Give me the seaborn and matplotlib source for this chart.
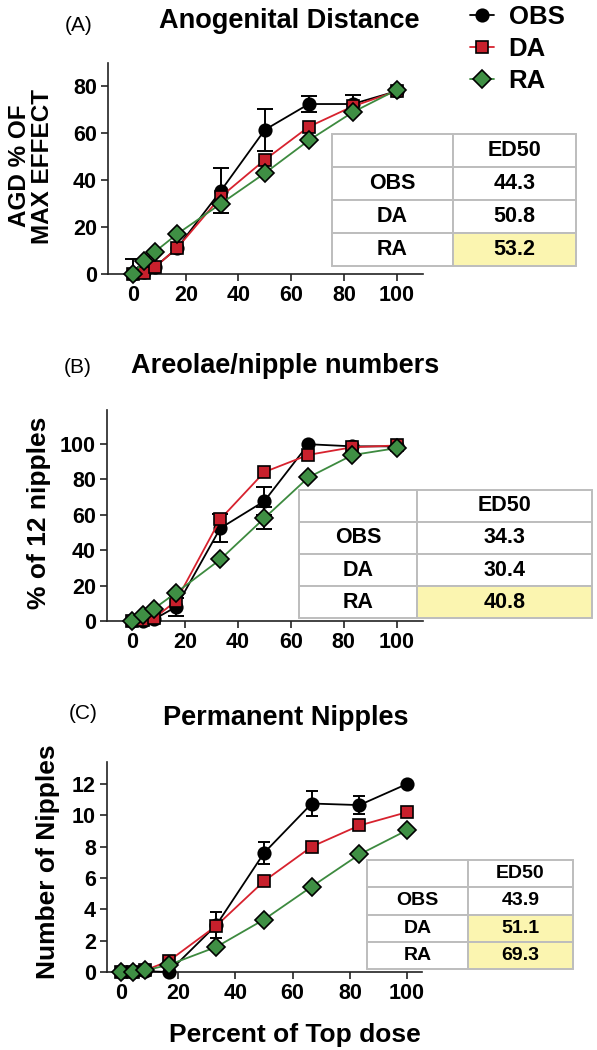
import matplotlib
matplotlib.use("Agg")
import matplotlib.pyplot as plt
from matplotlib.lines import Line2D
import pandas as pd
import seaborn as sns

# percent of top dose (x positions shared by all panels)
dose = [0, 4.17, 8.33, 16.67, 33.33, 50, 66.67, 83.33, 100]
groups = ["OBS", "DA", "RA"]

# (A) Anogenital distance, % of max effect
agd_obs = [0, 1, 3, 11, 35.5, 61.5, 72.5, 72.5, 78]
agd_obs_err = [6.5, 0, 0, 0, 9.5, 9, 3.5, 4, 0]
agd_da = [0, 0.5, 3, 11, 33, 48.7, 62.8, 71.5, 78]
agd_da_err = [0, 0, 0, 0, 0, 0, 0, 0, 0]
agd_ra = [0, 5.5, 9.5, 17, 30, 43, 57, 69, 78.5]
agd_ra_err = [0, 0, 0, 0, 0, 0, 0, 0, 0]
agd_ed50 = ["44.3", "50.8", "53.2"]
agd_highlight = ["RA"]

# (B) Areolae / nipple numbers, % of 12 nipples
areola_obs = [0, 0, 1, 8, 52.3, 67.6, 99.7, 98.5, 98.5]
areola_obs_err = [0, 0, 0, 5, 8, 8, 0, 0, 0]
areola_da = [0, 0.5, 1.5, 11.4, 57.4, 84, 93.7, 98, 99]
areola_da_err = [0, 0, 0, 0, 0, 0, 0, 0, 0]
areola_ra = [0, 3.4, 7, 16, 34.7, 58, 81, 93.6, 97.5]
areola_ra_err = [0, 0, 0, 0, 0, 6.3, 0, 0, 0]
areola_ed50 = ["34.3", "30.4", "40.8"]
areola_highlight = ["RA"]

# (C) Permanent nipples, number of nipples
perm_obs = [0, 0, 0.05, 0, 3, 7.6, 10.75, 10.65, 12.0]
perm_obs_err = [0, 0, 0, 0, 0.8, 0.7, 0.8, 0.55, 0]
perm_da = [0, 0, 0.1, 0.7, 2.95, 5.8, 8.0, 9.35, 10.2]
perm_da_err = [0, 0, 0, 0, 0, 0, 0, 0, 0]
perm_ra = [0, 0, 0.1, 0.45, 1.6, 3.35, 5.45, 7.5, 9.05]
perm_ra_err = [0, 0, 0, 0, 0, 0, 0, 0, 0]
perm_ed50 = ["43.9", "51.1", "69.3"]
perm_highlight = ["DA", "RA"]

W, H = 597, 1050

# style per group: line colour, marker, marker face, marker size
styles = {
    "OBS": dict(color="black", marker="o", mfc="black", ms=9),
    "DA": dict(color="#d7222e", marker="s", mfc="#c8202c", ms=8.5),
    "RA": dict(color="#3d8a3f", marker="D", mfc="#3f8f44", ms=9.5),
}
highlight_color = "#fbf5b0"
border_color = "#bdbdbd"

sns.set_theme(style="ticks")
plt.rcParams["font.family"] = ["Liberation Sans", "DejaVu Sans"]
plt.rcParams["font.weight"] = "bold"
for key in ("text.color", "axes.labelcolor", "xtick.color", "ytick.color", "xtick.labelcolor", "ytick.labelcolor"):
    plt.rcParams[key] = "black"


def fx(px):
    return px / W


def fy(py):
    return 1 - py / H


def draw_panel(ax, series, errors, capsize=5.5):
    for z, g in enumerate(groups):
        st = styles[g]
        df = pd.DataFrame({"dose": dose, "value": series[g]})
        sns.lineplot(data=df, x="dose", y="value", ax=ax, color=st["color"],
                     linewidth=1.3, marker=st["marker"], markersize=st["ms"],
                     markerfacecolor=st["mfc"], markeredgecolor="black",
                     markeredgewidth=1.2, clip_on=False, zorder=4 + z)
        err = errors[g]
        keep = [i for i, e in enumerate(err) if e > 0]
        if keep:
            ax.errorbar([dose[i] for i in keep], [series[g][i] for i in keep],
                        yerr=[err[i] for i in keep], fmt="none", ecolor="black",
                        elinewidth=1.4, capsize=capsize, capthick=1.4, zorder=3)
    sns.despine(ax=ax)
    for sp in ("left", "bottom"):
        ax.spines[sp].set_linewidth(1.2)
        ax.spines[sp].set_color("#222222")
    ax.tick_params(direction="out", length=5, width=1.2, color="#222222",
                   labelcolor="black", labelsize=15.5, pad=3)
    for lab in ax.get_xticklabels() + ax.get_yticklabels():
        lab.set_fontweight("bold")
    ax.set_xlabel("")
    ax.set_ylabel("")
    ax.set_xticks([0, 20, 40, 60, 80, 100])
    ax.set_facecolor("white")


def add_table(rect, values, highlight, fontsize, first_col):
    tax = fig.add_axes(rect)
    tax.axis("off")
    cell_text = [["", "ED50"]] + [[g, v] for g, v in zip(groups, values)]
    colours = [["white", "white"]] + [
        ["white", highlight_color if g in highlight else "white"] for g in groups]
    tbl = tax.table(cellText=cell_text, cellColours=colours, cellLoc="center",
                    bbox=[0, 0, 1, 1], colWidths=[first_col, 1 - first_col])
    tbl.auto_set_font_size(False)
    for cell in tbl.get_celld().values():
        cell.set_edgecolor(border_color)
        cell.set_linewidth(1.4)
        cell.get_text().set_fontsize(fontsize)
        cell.get_text().set_fontweight("bold")
        cell.get_text().set_color("black")


fig = plt.figure(figsize=(W / 100, H / 100), dpi=100)
fig.patch.set_facecolor("white")

# ---- panel A
axA = fig.add_axes([fx(108), fy(274), 315 / W, 211 / H])
draw_panel(axA,
           {"OBS": agd_obs, "DA": agd_da, "RA": agd_ra},
           {"OBS": agd_obs_err, "DA": agd_da_err, "RA": agd_ra_err})
axA.set_xlim(-9.5, 110)
axA.set_ylim(0, 90)
axA.set_yticks([0, 20, 40, 60, 80])
fig.text(fx(79), fy(31), "(A)", ha="center", va="baseline", fontsize=15, fontweight="normal")
fig.text(fx(289), fy(28), "Anogenital Distance", ha="center", va="baseline", fontsize=19.5)
fig.text(fx(31), fy(166), "AGD % OF\nMAX EFFECT", rotation=90, ha="center", va="center",
         fontsize=17.5, linespacing=1.05, multialignment="center")
add_table([fx(332), fy(266), 244 / W, 132 / H], agd_ed50, agd_highlight, 15.5, 121 / 244)

handles = [Line2D([], [], color=styles[g]["color"], marker=styles[g]["marker"],
                  markersize=styles[g]["ms"], markerfacecolor=styles[g]["mfc"],
                  markeredgecolor="black", markeredgewidth=1.2, linewidth=1.3)
           for g in groups]
fig.legend(handles, groups, loc="upper left", bbox_to_anchor=(fx(470), fy(5)),
           frameon=False, prop={"weight": "bold", "size": 18.5}, handlelength=0.95,
           handletextpad=0.55, labelspacing=0.32, borderpad=0, borderaxespad=0)

# ---- panel B
axB = fig.add_axes([fx(107), fy(621), 316 / W, 211 / H])
draw_panel(axB,
           {"OBS": areola_obs, "DA": areola_da, "RA": areola_ra},
           {"OBS": areola_obs_err, "DA": areola_da_err, "RA": areola_ra_err})
axB.set_xlim(-9.5, 110)
axB.set_ylim(0, 119)
axB.set_yticks([0, 20, 40, 60, 80, 100])
fig.text(fx(78), fy(373), "(B)", ha="center", va="baseline", fontsize=15, fontweight="normal")
fig.text(fx(285), fy(373), "Areolae/nipple numbers", ha="center", va="baseline", fontsize=19.5)
fig.text(fx(39), fy(513), "% of 12 nipples", rotation=90, ha="center", va="center", fontsize=19)
add_table([fx(299), fy(618), 293 / W, 128 / H], areola_ed50, areola_highlight, 15.5, 118 / 293)

# ---- panel C
axC = fig.add_axes([fx(107), fy(972), 315 / W, 210 / H])
draw_panel(axC,
           {"OBS": perm_obs, "DA": perm_da, "RA": perm_ra},
           {"OBS": perm_obs_err, "DA": perm_da_err, "RA": perm_ra_err}, capsize=4.5)
axC.set_xlim(-4.9, 105.2)
axC.set_ylim(0, 13.4)
axC.set_yticks([0, 2, 4, 6, 8, 10, 12])
fig.text(fx(83), fy(719), "(C)", ha="center", va="baseline", fontsize=15, fontweight="normal")
fig.text(fx(286), fy(725), "Permanent Nipples", ha="center", va="baseline", fontsize=19.5)
fig.text(fx(48), fy(862), "Number of Nipples", rotation=90, ha="center", va="center", fontsize=19)
fig.text(fx(295), fy(1042), "Percent of Top dose", ha="center", va="baseline", fontsize=19)
add_table([fx(367), fy(969), 206 / W, 109 / H], perm_ed50, perm_highlight, 14, 101 / 206)

fig.savefig("out.png", dpi=100, facecolor="white")
